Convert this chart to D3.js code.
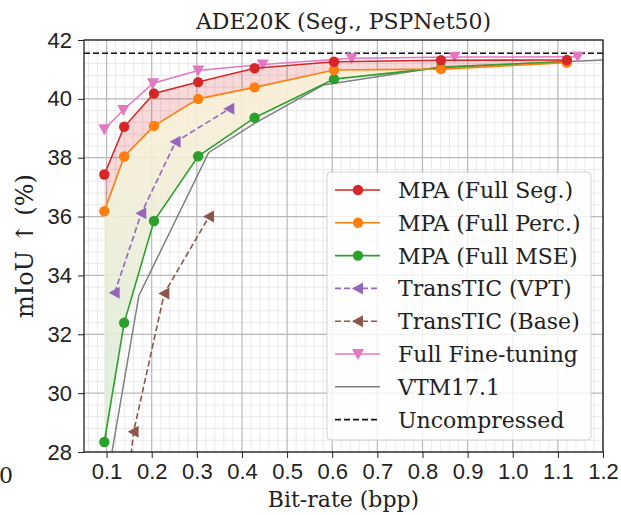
<!DOCTYPE html>
<html lang="en">
<head>
<meta charset="UTF-8" />
<title>ADE20K (Seg., PSPNet50)</title>
<style>
  body { margin: 0; background: #fff; }
  svg { display: block; font-family: "DejaVu Serif", serif; }
  .tick text { font-size: 22px; fill: #222; }
  .tick line { stroke: #222; }
  .domain { display: none; }
</style>
</head>
<body>
<svg width="621" height="515"></svg>
<script src="https://d3js.org/d3.v7.min.js"></script>
<script>
  // bit-rate (bpp) / mIoU (%)
  const mpaX = [0.095, 0.139, 0.205, 0.303, 0.428, 0.604, 0.841, 1.12];
  const mpaSeg = [37.43, 39.05, 40.18, 40.57, 41.04, 41.26, 41.31, 41.32];
  const mpaPerc = [36.18, 38.04, 39.08, 40.0, 40.39, 40.98, 41.01, 41.23];
  const mpaMse = [28.34, 32.39, 35.85, 38.05, 39.36, 40.67, 41.06, 41.27];

  const vptX = [0.118, 0.177, 0.253, 0.372];
  const vptY = [33.41, 36.11, 38.54, 39.66];

  const baseX = [0.148, 0.160, 0.228, 0.327];
  const baseY = [27.0, 28.69, 33.39, 36.0];

  const fineX = [0.095, 0.137, 0.203, 0.303, 0.446, 0.643, 0.871, 1.144];
  const fineY = [38.97, 39.62, 40.53, 40.96, 41.17, 41.38, 41.42, 41.43];

  const vtmX = [0.10, 0.1715, 0.326, 0.428, 0.58, 0.84, 1.25];
  const vtmY = [26.93, 33.31, 38.17, 39.17, 40.47, 41.08, 41.35];

  const uncompressed = 41.55;

  const xTicks = [0.1, 0.2, 0.3, 0.4, 0.5, 0.6, 0.7, 0.8, 0.9, 1.0, 1.1, 1.2];
  const yTicks = [28, 30, 32, 34, 36, 38, 40, 42];

  const svg = d3.select("svg");
  const margin = { left: 84, top: 40, right: 18, bottom: 63 };
  const W = 621, H = 515;
  const x = d3.scaleLinear().domain([0.05, 1.2]).range([margin.left, W - margin.right]);
  const y = d3.scaleLinear().domain([28, 42]).range([H - margin.bottom, margin.top]);

  const defs = svg.append("defs");
  defs.append("clipPath").attr("id", "plot")
    .append("rect")
    .attr("x", x(0.05)).attr("y", y(42))
    .attr("width", x(1.2) - x(0.05)).attr("height", y(28) - y(42));

  const grad = defs.append("linearGradient").attr("id", "lowfill")
    .attr("gradientUnits", "userSpaceOnUse")
    .attr("x1", 0).attr("x2", 0).attr("y1", y(40)).attr("y2", y(31));
  grad.append("stop").attr("offset", 0).attr("stop-color", "#f9eed5");
  grad.append("stop").attr("offset", 1).attr("stop-color", "#e1eddb");

  // grid
  const grid = svg.append("g");
  const minorX = d3.range(0.06, 1.2, 0.02).filter(v => Math.abs(v * 10 - Math.round(v * 10)) > 1e-6);
  const minorY = d3.range(28.4, 42, 0.4).filter(v => Math.abs(v / 2 - Math.round(v / 2)) > 1e-6);
  grid.selectAll(".mx").data(minorX).join("line")
    .attr("x1", d => x(d)).attr("x2", d => x(d)).attr("y1", y(28)).attr("y2", y(42))
    .attr("stroke", "#e4e4e4").attr("stroke-width", 0.8);
  grid.selectAll(".my").data(minorY).join("line")
    .attr("y1", d => y(d)).attr("y2", d => y(d)).attr("x1", x(0.05)).attr("x2", x(1.2))
    .attr("stroke", "#e4e4e4").attr("stroke-width", 0.8);
  grid.selectAll(".Mx").data(xTicks).join("line")
    .attr("x1", d => x(d)).attr("x2", d => x(d)).attr("y1", y(28)).attr("y2", y(42))
    .attr("stroke", "#b8b8b8").attr("stroke-width", 1.2);
  grid.selectAll(".My").data(yTicks).join("line")
    .attr("y1", d => y(d)).attr("y2", d => y(d)).attr("x1", x(0.05)).attr("x2", x(1.2))
    .attr("stroke", "#b8b8b8").attr("stroke-width", 1.2);

  const plot = svg.append("g").attr("clip-path", "url(#plot)");

  // shaded gaps between the MPA curves
  const band = (hi, lo) => d3.area().x((d, i) => x(mpaX[i])).y0((d, i) => y(lo[i])).y1((d, i) => y(hi[i]));
  plot.append("path").datum(mpaX).attr("d", band(mpaPerc, mpaMse)).attr("fill", "url(#lowfill)").attr("opacity", 0.9);
  plot.append("path").datum(mpaX).attr("d", band(mpaSeg, mpaPerc)).attr("fill", "#d62728").attr("opacity", 0.18);

  const line = d3.line().x(d => x(d[0])).y(d => y(d[1]));
  const zip = (a, b) => a.map((v, i) => [v, b[i]]);

  plot.append("line")
    .attr("x1", x(0.05)).attr("x2", x(1.2)).attr("y1", y(uncompressed)).attr("y2", y(uncompressed))
    .attr("stroke", "#111").attr("stroke-width", 1.6).attr("stroke-dasharray", "6,3");

  const series = [
    { name: "VTM17.1", xs: vtmX, ys: vtmY, color: "#7f7f7f", dash: null, marker: null, lw: 1.5 },
    { name: "Full Fine-tuning", xs: fineX, ys: fineY, color: "#e377c2", dash: null, marker: "down", lw: 1.5 },
    { name: "TransTIC (Base)", xs: baseX, ys: baseY, color: "#8c564b", dash: "6,3", marker: "left", lw: 1.6 },
    { name: "TransTIC (VPT)", xs: vptX, ys: vptY, color: "#9467bd", dash: "6,3", marker: "left", lw: 1.6 },
    { name: "MPA (Full MSE)", xs: mpaX, ys: mpaMse, color: "#2ca02c", dash: null, marker: "circle", lw: 1.6 },
    { name: "MPA (Full Perc.)", xs: mpaX, ys: mpaPerc, color: "#ff7f0e", dash: null, marker: "circle", lw: 1.6 },
    { name: "MPA (Full Seg.)", xs: mpaX, ys: mpaSeg, color: "#d62728", dash: null, marker: "circle", lw: 1.6 }
  ];

  function marker(g, type, color, cx, cy) {
    if (type === "circle") {
      g.append("circle").attr("cx", cx).attr("cy", cy).attr("r", 5.2).attr("fill", color);
    } else if (type === "down") {
      g.append("path").attr("d", `M${cx - 6},${cy - 5}L${cx + 6},${cy - 5}L${cx},${cy + 6}Z`).attr("fill", color);
    } else if (type === "left") {
      g.append("path").attr("d", `M${cx - 6},${cy}L${cx + 5},${cy - 6}L${cx + 5},${cy + 6}Z`).attr("fill", color);
    }
  }

  series.forEach(s => {
    const pts = zip(s.xs, s.ys);
    plot.append("path").datum(pts).attr("d", line)
      .attr("fill", "none").attr("stroke", s.color).attr("stroke-width", s.lw)
      .attr("stroke-dasharray", s.dash);
    if (s.marker) pts.forEach(p => marker(plot, s.marker, s.color, x(p[0]), y(p[1])));
  });

  // axes
  svg.append("g").attr("transform", `translate(0,${y(28)})`)
    .call(d3.axisBottom(x).tickValues(xTicks).tickFormat(d3.format(".1f")).tickSize(6).tickPadding(5));
  svg.append("g").attr("transform", `translate(${x(0.05)},0)`)
    .call(d3.axisLeft(y).tickValues(yTicks).tickFormat(d3.format("d")).tickSize(6).tickPadding(6));

  svg.append("rect")
    .attr("x", x(0.05)).attr("y", y(42)).attr("width", x(1.2) - x(0.05)).attr("height", y(28) - y(42))
    .attr("fill", "none").attr("stroke", "#111").attr("stroke-width", 1.2);

  svg.append("text").attr("x", (x(0.05) + x(1.2)) / 2).attr("y", 29)
    .attr("text-anchor", "middle").attr("font-size", 22).attr("fill", "#222")
    .text("ADE20K (Seg., PSPNet50)");
  svg.append("text").attr("x", (x(0.05) + x(1.2)) / 2).attr("y", 507)
    .attr("text-anchor", "middle").attr("font-size", 22).attr("fill", "#222")
    .text("Bit-rate (bpp)");
  svg.append("text").attr("transform", "translate(33,246) rotate(-90)")
    .attr("text-anchor", "middle").attr("font-size", 24).attr("fill", "#222")
    .text("mIoU ↑ (%)");
  // clipped tick label from the neighbouring panel
  svg.append("text").attr("x", -1).attr("y", 483).attr("font-size", 22).attr("fill", "#222").text("0");

  // legend
  const legendItems = [
    { name: "MPA (Full Seg.)", color: "#d62728", dash: null, marker: "circle" },
    { name: "MPA (Full Perc.)", color: "#ff7f0e", dash: null, marker: "circle" },
    { name: "MPA (Full MSE)", color: "#2ca02c", dash: null, marker: "circle" },
    { name: "TransTIC (VPT)", color: "#9467bd", dash: "6,3", marker: "left" },
    { name: "TransTIC (Base)", color: "#8c564b", dash: "6,3", marker: "left" },
    { name: "Full Fine-tuning", color: "#e377c2", dash: null, marker: "down" },
    { name: "VTM17.1", color: "#7f7f7f", dash: null, marker: null },
    { name: "Uncompressed", color: "#111", dash: "6,3", marker: null }
  ];
  const lg = svg.append("g");
  lg.append("rect").attr("x", 327).attr("y", 172).attr("width", 264).attr("height", 268)
    .attr("rx", 4).attr("fill", "#fff").attr("fill-opacity", 0.8).attr("stroke", "#d0d0d0");
  legendItems.forEach((d, i) => {
    const cy = 190 + i * 32.8;
    lg.append("line").attr("x1", 335).attr("x2", 380).attr("y1", cy).attr("y2", cy)
      .attr("stroke", d.color).attr("stroke-width", 1.6).attr("stroke-dasharray", d.dash);
    if (d.marker) marker(lg, d.marker, d.color, 358, cy);
    lg.append("text").attr("x", 398).attr("y", cy + 8).attr("font-size", 22).attr("fill", "#222").text(d.name);
  });
</script>
</body>
</html>
